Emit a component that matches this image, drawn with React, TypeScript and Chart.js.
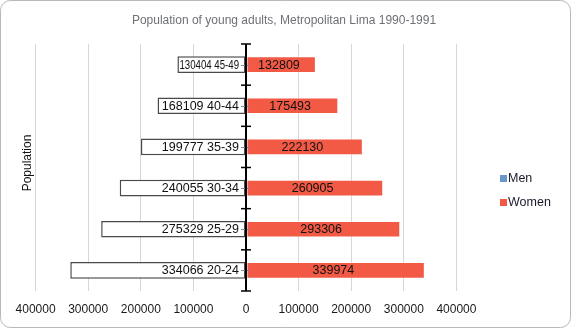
import React, { useEffect, useRef } from "react";
import { Chart, registerables } from "chart.js";

Chart.register(...registerables);

const TITLE = "Population of young adults, Metropolitan Lima 1990-1991";
const AGE_GROUPS = ["45-49", "40-44", "35-39", "30-34", "25-29", "20-24"];
const MEN = [130404, 168109, 199777, 240055, 275329, 334066];
const WOMEN = [132809, 175493, 222130, 260905, 293306, 339974];
const SERIES_NAMES = ["Men", "Women"];
const AXIS_TITLE = "Population";
const X_MIN = -400000;
const X_MAX = 400000;
const X_STEP = 100000;

const FONT = '"Liberation Sans", Arial, sans-serif';
const MEN_LEGEND = "#6b98cc";
const WOMEN_COLOR = "#f25a45";

const overlay = {
  id: "overlay",
  beforeDraw(chart: any) {
    const ctx = chart.ctx;
    ctx.save();
    ctx.fillStyle = "#ffffff";
    ctx.fillRect(0, 0, chart.width, chart.height);
    ctx.restore();
  },
  afterDatasetsDraw(chart: any) {
    const ctx = chart.ctx;
    const { top, bottom } = chart.chartArea;
    const xs = chart.scales.x;
    const ys = chart.scales.y;
    const x0 = Math.round(xs.getPixelForValue(0));
    ctx.save();
    ctx.strokeStyle = "#8a8a8a";
    ctx.lineWidth = 1;
    AGE_GROUPS.forEach((_, i) => {
      const y = Math.round(ys.getPixelForValue(i)) + 0.5;
      ctx.beginPath();
      ctx.moveTo(x0 - 5, y);
      ctx.lineTo(x0 + 4, y);
      ctx.stroke();
    });
    ctx.strokeStyle = "#000000";
    ctx.lineWidth = 2;
    ctx.beginPath();
    ctx.moveTo(x0, top);
    ctx.lineTo(x0, bottom);
    ctx.stroke();
    ctx.lineWidth = 1.5;
    const n = AGE_GROUPS.length;
    for (let i = 0; i <= n; i++) {
      const y = top + ((bottom - top) * i) / n;
      ctx.beginPath();
      ctx.moveTo(x0 - 5, y);
      ctx.lineTo(x0 + 5, y);
      ctx.stroke();
    }
    ctx.restore();
  },
  afterDraw(chart: any) {
    const ctx = chart.ctx;
    const xs = chart.scales.x;
    const ys = chart.scales.y;
    const x0 = xs.getPixelForValue(0);
    ctx.save();
    ctx.font = "12.5px " + FONT;
    ctx.fillStyle = "#111111";
    ctx.textBaseline = "middle";
    AGE_GROUPS.forEach((g, i) => {
      const y = ys.getPixelForValue(i) + 0.5;
      const xl = xs.getPixelForValue(-MEN[i]);
      const txt = MEN[i] + " " + g;
      ctx.textAlign = "right";
      ctx.fillText(txt, x0 - 7, y, x0 - 7 - xl - 2);
      const xr = xs.getPixelForValue(WOMEN[i]);
      ctx.textAlign = "center";
      ctx.fillText(String(WOMEN[i]), (x0 + xr) / 2 - 2, y);
    });
    ctx.font = "12px " + FONT;
    ctx.fillStyle = "#6e7075";
    ctx.textAlign = "center";
    ctx.fillText(TITLE, 284, 21);
    ctx.save();
    ctx.translate(28, 163);
    ctx.rotate(-Math.PI / 2);
    ctx.fillStyle = "#111111";
    ctx.font = "12px " + FONT;
    ctx.textAlign = "center";
    ctx.fillText(AXIS_TITLE, 0, 0);
    ctx.restore();
    ctx.font = "12.5px " + FONT;
    ctx.textAlign = "left";
    ctx.fillStyle = MEN_LEGEND;
    ctx.fillRect(500, 175, 7, 7);
    ctx.fillStyle = WOMEN_COLOR;
    ctx.fillRect(500, 199, 7, 7);
    ctx.fillStyle = "#1a1a2a";
    ctx.fillText(SERIES_NAMES[0], 508, 179);
    ctx.fillText(SERIES_NAMES[1], 508, 203);
    ctx.strokeStyle = "#b8b8b8";
    ctx.lineWidth = 1;
    ctx.beginPath();
    ctx.roundRect(0.5, 0.5, chart.width - 1, chart.height - 1, 10);
    ctx.stroke();
    ctx.restore();
  },
};

export default function App() {
  const ref = useRef<HTMLCanvasElement | null>(null);
  useEffect(() => {
    document.body.style.margin = "0";
    const canvas = ref.current;
    if (!canvas) return;
    const chart = new Chart(canvas, {
      type: "bar",
      data: {
        labels: AGE_GROUPS,
        datasets: [
          {
            label: SERIES_NAMES[0],
            data: MEN.map((v) => -v),
            backgroundColor: "#ffffff",
            borderColor: "#4a4a4a",
            borderWidth: 1.5,
            borderSkipped: false,
          },
          {
            label: SERIES_NAMES[1],
            data: WOMEN,
            backgroundColor: WOMEN_COLOR,
            borderColor: "rgba(255,255,255,0.45)",
            borderWidth: 1,
            borderSkipped: false,
          },
        ],
      },
      options: {
        indexAxis: "y",
        responsive: false,
        animation: false,
        devicePixelRatio: 1,
        barPercentage: 0.405,
        categoryPercentage: 1,
        layout: { padding: { left: 35.6, right: 114.6, top: 44, bottom: 0.6 } },
        plugins: {
          legend: { display: false },
          title: { display: false },
          tooltip: { enabled: false },
        },
        scales: {
          x: {
            stacked: true,
            min: X_MIN,
            max: X_MAX,
            ticks: {
              stepSize: X_STEP,
              padding: 11,
              color: "#1a1a1a",
              font: { family: FONT, size: 12 },
              maxRotation: 0,
              autoSkip: false,
              callback: (v: any) => String(Math.abs(Number(v))),
            },
            grid: { color: "#d6d6d6", drawTicks: false, tickLength: 0 },
            border: { display: false },
          },
          y: {
            stacked: true,
            display: false,
          },
        },
      } as any,
      plugins: [overlay],
    });
    return () => chart.destroy();
  }, []);
  return (
    <div style={{ width: 571, height: 328, position: "relative" }}>
      <canvas ref={ref} width={571} height={328} style={{ display: "block" }} />
    </div>
  );
}
